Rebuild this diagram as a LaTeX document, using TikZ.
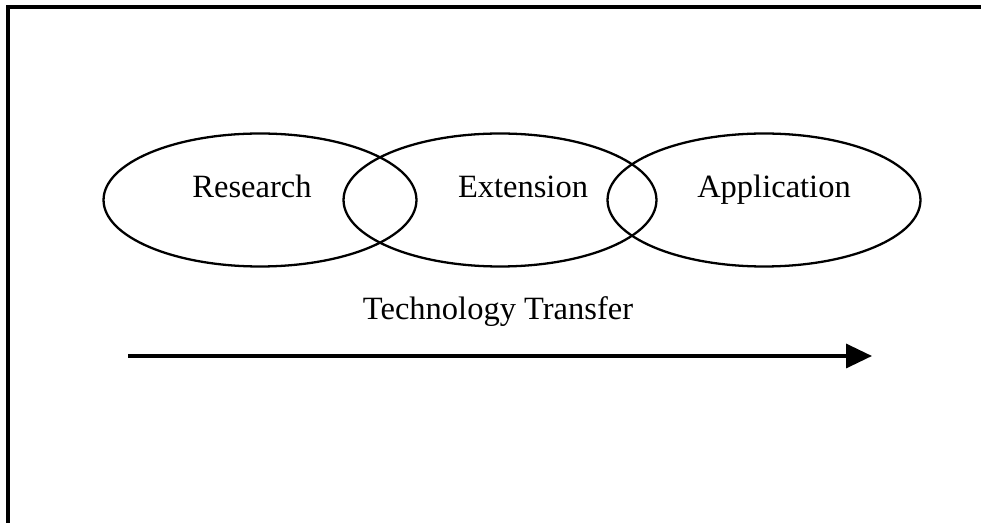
\documentclass[tikz,border=0pt]{standalone}
\usepackage{fontspec}
\setmainfont{Liberation Serif}
\usetikzlibrary{positioning, shapes.geometric, arrows.meta}

\begin{document}
\begin{tikzpicture}[
    x=0.02cm, y=-0.02cm,
    field/.style={draw, ellipse, line width=1.3pt, minimum width=6.26cm, minimum height=2.66cm, inner sep=0pt},
    word/.style={font=\fontsize{18.5}{22}\selectfont, anchor=base, inner sep=0pt},
    arr/.style={-{Triangle[length=0.52cm, width=0.48cm]}, line width=2pt},
  ]
  \useasboundingbox (0,0) rectangle (981,523);

  % frame (only top and left edge visible)
  \draw[line width=2pt] (8,530) -- (8,7) -- (990,7);

  % overlapping fields
  \node[field] (res) at (260,200) {};
  \node[field] (ext) at (500,200) {};
  \node[field] (app) at (764,200) {};

  % labels
  \node[word] (reslbl) at (252,198) {Research};
  \node[word] (extlbl) at (523,198) {Extension};
  \node[word] (applbl) at (774,198) {Application};
  \node[word] (ttlbl) at (498,320) {Technology Transfer};

  % transfer arrow
  \coordinate (ttstart) at (128,356);
  \coordinate (ttend) at (872,356);
  \draw[arr] (ttstart) -- (ttend);
\end{tikzpicture}
\end{document}
